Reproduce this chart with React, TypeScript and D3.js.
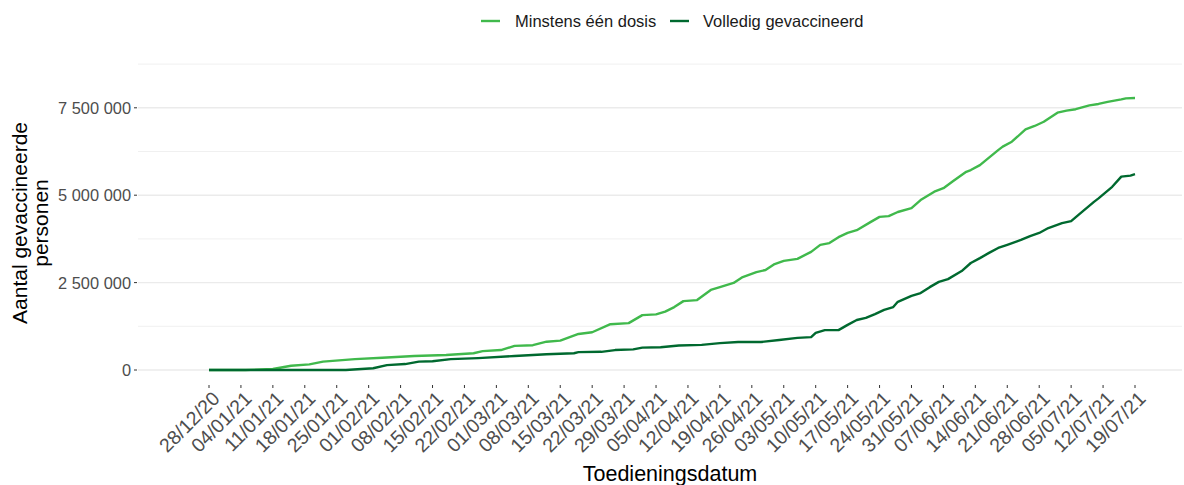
import React from 'react';
import * as d3 from 'd3';

const SERIES_NAMES = ['Minstens één dosis', 'Volledig gevaccineerd'];
const SERIES_COLORS = ['#40b94c', '#00692f'];

const X_START = '2020-12-28';
const X_END = '2021-07-19';

const dosisDates = [
  '2020-12-28','2021-01-05','2021-01-11','2021-01-15','2021-01-19','2021-01-22','2021-01-29','2021-02-04',
  '2021-02-11','2021-02-18','2021-02-24','2021-02-26','2021-03-02','2021-03-05','2021-03-09','2021-03-12',
  '2021-03-15','2021-03-19','2021-03-22','2021-03-26','2021-03-30','2021-04-02','2021-04-05','2021-04-07',
  '2021-04-09','2021-04-11','2021-04-14','2021-04-17','2021-04-19','2021-04-22','2021-04-24','2021-04-27',
  '2021-04-29','2021-05-01','2021-05-03','2021-05-06','2021-05-09','2021-05-11','2021-05-13','2021-05-15',
  '2021-05-17','2021-05-19','2021-05-22','2021-05-24','2021-05-26','2021-05-28','2021-05-31','2021-06-02',
  '2021-06-05','2021-06-07','2021-06-09','2021-06-12','2021-06-13','2021-06-15','2021-06-19','2021-06-20',
  '2021-06-22','2021-06-25','2021-06-27','2021-06-29','2021-07-02','2021-07-04','2021-07-06','2021-07-09',
  '2021-07-11','2021-07-13','2021-07-16','2021-07-17','2021-07-19',
];
const dosisMillions = [
  0, 0, 0.03, 0.12, 0.16, 0.24, 0.31, 0.35,
  0.40, 0.43, 0.48, 0.54, 0.57, 0.69, 0.71, 0.81,
  0.84, 1.03, 1.08, 1.31, 1.34, 1.57, 1.59, 1.67,
  1.80, 1.97, 2.00, 2.29, 2.37, 2.49, 2.66, 2.80,
  2.86, 3.03, 3.12, 3.18, 3.38, 3.58, 3.63, 3.80,
  3.92, 4.00, 4.23, 4.38, 4.40, 4.52, 4.63, 4.86,
  5.10, 5.20, 5.39, 5.67, 5.72, 5.86, 6.29, 6.39,
  6.53, 6.88, 6.98, 7.10, 7.36, 7.42, 7.46, 7.57,
  7.61, 7.67, 7.74, 7.77, 7.78,
];

const volledigDates = [
  '2020-12-28','2021-01-27','2021-02-02','2021-02-05','2021-02-09','2021-02-12','2021-02-15','2021-02-19',
  '2021-02-25','2021-03-05','2021-03-12','2021-03-18','2021-03-19','2021-03-24','2021-03-27','2021-03-31',
  '2021-04-02','2021-04-06','2021-04-10','2021-04-15','2021-04-19','2021-04-23','2021-04-28','2021-05-02',
  '2021-05-06','2021-05-09','2021-05-10','2021-05-12','2021-05-15','2021-05-17','2021-05-19','2021-05-21',
  '2021-05-23','2021-05-25','2021-05-27','2021-05-28','2021-05-31','2021-06-02','2021-06-04','2021-06-06',
  '2021-06-08','2021-06-11','2021-06-13','2021-06-15','2021-06-17','2021-06-19','2021-06-21','2021-06-24',
  '2021-06-26','2021-06-28','2021-06-30','2021-07-03','2021-07-05','2021-07-07','2021-07-10','2021-07-11',
  '2021-07-14','2021-07-16','2021-07-18','2021-07-19',
];
const volledigMillions = [
  0, 0, 0.05, 0.14, 0.17, 0.24, 0.25, 0.31,
  0.34, 0.40, 0.45, 0.48, 0.51, 0.52, 0.57, 0.59,
  0.64, 0.65, 0.70, 0.72, 0.77, 0.80, 0.80, 0.86,
  0.92, 0.94, 1.06, 1.14, 1.14, 1.29, 1.43, 1.49,
  1.60, 1.72, 1.80, 1.95, 2.12, 2.20, 2.37, 2.52,
  2.60, 2.83, 3.06, 3.20, 3.35, 3.49, 3.58, 3.72,
  3.83, 3.92, 4.06, 4.20, 4.26, 4.48, 4.81, 4.91,
  5.24, 5.53, 5.56, 5.60,
];

const yMajorTicks = [0, 2500000, 5000000, 7500000];
const yMinorTicks = [1250000, 3750000, 6250000, 8750000];

const X_TITLE = 'Toedieningsdatum';
const Y_TITLE = ['Aantal gevaccineerde', 'personen'];

const FONT = '"Liberation Sans", Arial, sans-serif';

export default function App() {
  const parse = d3.utcParse('%Y-%m-%d');
  const start = parse(X_START)!;
  const end = parse(X_END)!;

  const panelLeft = 138;
  const panelRight = 1182;
  const axisY = 384;

  const x = d3.scaleUtc().domain([start, end]).range([209, 1135]);
  const y = d3.scaleLinear().domain([0, 7500000]).range([370, 107.8]);

  const xTicks = d3.utcDay.range(start, d3.utcDay.offset(end, 1), 7);
  const fmtDate = d3.utcFormat('%d/%m/%y');
  const fmtNum = (v: number) => d3.format(',')(v).replace(/,/g, ' ');

  const series = [
    dosisDates.map((d, i) => ({ date: parse(d)!, value: dosisMillions[i] * 1e6 })),
    volledigDates.map((d, i) => ({ date: parse(d)!, value: volledigMillions[i] * 1e6 })),
  ];

  const line = d3
    .line<{ date: Date; value: number }>()
    .x((d) => x(d.date))
    .y((d) => y(d.value));

  const legendItems = [
    { sx: 481, tx: 515 },
    { sx: 670, tx: 703 },
  ];

  return (
    <svg
      width={1184}
      height={485}
      style={{ position: 'absolute', left: 0, top: 0, background: '#fff' }}
      fontFamily={FONT}
    >
      <rect x={0} y={0} width={1184} height={485} fill="#fff" />
      {/* grid */}
      {yMinorTicks.map((t) => (
        <line key={'mn' + t} x1={panelLeft} x2={panelRight} y1={y(t)} y2={y(t)} stroke="#f0f0f0" strokeWidth={1} />
      ))}
      {yMajorTicks.map((t) => (
        <line key={'mj' + t} x1={panelLeft} x2={panelRight} y1={y(t)} y2={y(t)} stroke="#ebebeb" strokeWidth={1.4} />
      ))}
      {/* y axis ticks and labels */}
      {yMajorTicks.map((t) => (
        <g key={'yl' + t}>
          <line x1={134} x2={137} y1={y(t)} y2={y(t)} stroke="#333" strokeWidth={1} />
          <text x={131} y={y(t)} dy="0.36em" textAnchor="end" fontSize={16.4} fill="#4d4d4d">
            {fmtNum(t)}
          </text>
        </g>
      ))}
      {/* x axis ticks and labels */}
      {xTicks.map((t) => (
        <g key={'xt' + t.toISOString()}>
          <line x1={x(t)} x2={x(t)} y1={axisY + 1} y2={axisY + 4} stroke="#333" strokeWidth={1} />
          <text
            transform={`translate(${x(t) + 2},${axisY + 6}) rotate(-45)`}
            textAnchor="end"
            dy="0.72em"
            fontSize={19.5}
            fill="#4d4d4d"
          >
            {fmtDate(t)}
          </text>
        </g>
      ))}
      {/* lines */}
      {series.map((s, i) => (
        <path
          key={'s' + i}
          d={line(s) || ''}
          fill="none"
          stroke={SERIES_COLORS[i]}
          strokeWidth={2.4}
          strokeLinejoin="round"
          strokeLinecap="butt"
        />
      ))}
      {/* axis titles */}
      <text x={670} y={481} textAnchor="middle" fontSize={21.5} fill="#000">
        {X_TITLE}
      </text>
      <text transform="translate(27,223) rotate(-90)" textAnchor="middle" fontSize={21} fill="#000">
        <tspan x={0} dy={0}>{Y_TITLE[0]}</tspan>
        <tspan x={0} dy={21}>{Y_TITLE[1]}</tspan>
      </text>
      {/* legend */}
      {legendItems.map((it, i) => (
        <g key={'lg' + i}>
          <line x1={it.sx} x2={it.sx + 19} y1={21} y2={21} stroke={SERIES_COLORS[i]} strokeWidth={2.4} />
          <text x={it.tx} y={27} fontSize={16.5} fill="#1a1a1a">
            {SERIES_NAMES[i]}
          </text>
        </g>
      ))}
    </svg>
  );
}
